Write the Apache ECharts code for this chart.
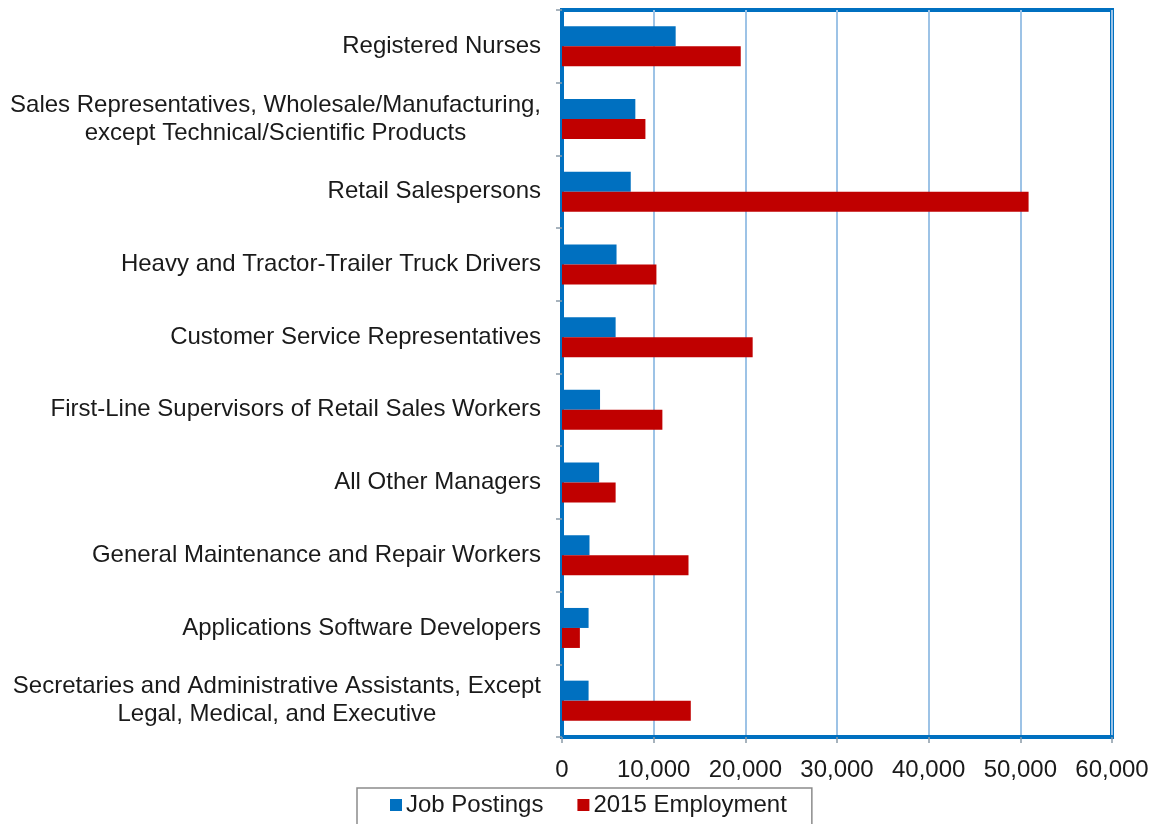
<!DOCTYPE html>
<html>
<head>
<meta charset="utf-8">
<script src="https://cdn.jsdelivr.net/npm/echarts@6/dist/echarts.min.js"></script>
<style>
html,body{margin:0;padding:0;background:#fff;}
#chart{width:1154px;height:824px;}
</style>
</head>
<body>
<div id="chart"></div>
<script>
const categories = [
  'Registered Nurses',
  'Sales Representatives, Wholesale/Manufacturing,\nexcept Technical/Scientific Products',
  'Retail Salespersons',
  'Heavy and Tractor-Trailer Truck Drivers',
  'Customer Service Representatives',
  'First-Line Supervisors of Retail Sales Workers',
  'All Other Managers',
  'General Maintenance and Repair Workers',
  'Applications Software Developers',
  'Secretaries and Administrative Assistants, Except\nLegal, Medical, and Executive'
];
const jobPostings = [12400, 8000, 7500, 5950, 5850, 4150, 4050, 3000, 2900, 2900];
const employment2015 = [19500, 9100, 50900, 10300, 20800, 10950, 5850, 13800, 1950, 14050];
const seriesNames = ['Job Postings', '2015 Employment'];

const FONT = '"Liberation Sans", Arial, sans-serif';
const chart = echarts.init(document.getElementById('chart'), null, {renderer: 'canvas'});

chart.setOption({
  animation: false,
  backgroundColor: '#fff',
  grid: {
    left: 562, right: 42, top: 10, bottom: 87,
    show: true, borderColor: '#0070c0', borderWidth: 4, backgroundColor: 'transparent'
  },
  legend: {
    data: seriesNames,
    left: 357, top: 788,
    padding: [5, 25, 20, 33],
    itemGap: 34,
    itemWidth: 12, itemHeight: 12,
    icon: 'rect',
    borderColor: '#8c8c8c', borderWidth: 1.5,
    textStyle: {fontFamily: FONT, fontSize: 24, color: '#1a1a1a', padding: [0, 0, 0, -1]}
  },
  xAxis: {
    type: 'value', min: 0, max: 60000, interval: 10000,
    axisLine: {show: true, lineStyle: {color: '#0070c0', width: 4}},
    axisTick: {show: true, length: 6, lineStyle: {color: '#8a9aa8', width: 1.5}},
    splitLine: {show: true, lineStyle: {color: '#9dc3e6', width: 2}},
    axisLabel: {
      margin: 21, fontFamily: FONT, fontSize: 24, color: '#1a1a1a',
      formatter: v => v.toLocaleString('en-US')
    }
  },
  yAxis: {
    type: 'category', inverse: true, data: categories,
    axisLine: {show: true, lineStyle: {color: '#0070c0', width: 4}},
    axisTick: {show: true, length: 6, lineStyle: {color: '#8a9aa8', width: 1.5}},
    splitLine: {show: false},
    axisLabel: {
      margin: 21, fontFamily: FONT, fontSize: 24, color: '#1a1a1a', lineHeight: 28,
      formatter: function (v) {
        const parts = v.split('\n');
        if (parts.length === 1) return v;
        return parts.map(p => '{c|' + p + '}').join('\n');
      },
      rich: {
        c: {align: 'center', fontFamily: FONT, fontSize: 24, color: '#1a1a1a', lineHeight: 28}
      }
    }
  },
  series: [
    {name: seriesNames[0], type: 'bar', data: jobPostings, barWidth: 20, barGap: '0%',
     itemStyle: {color: '#0070c0'}},
    {name: seriesNames[1], type: 'bar', data: employment2015, barWidth: 20, barGap: '0%',
     itemStyle: {color: '#c00000'}}
  ]
});
</script>
</body>
</html>
